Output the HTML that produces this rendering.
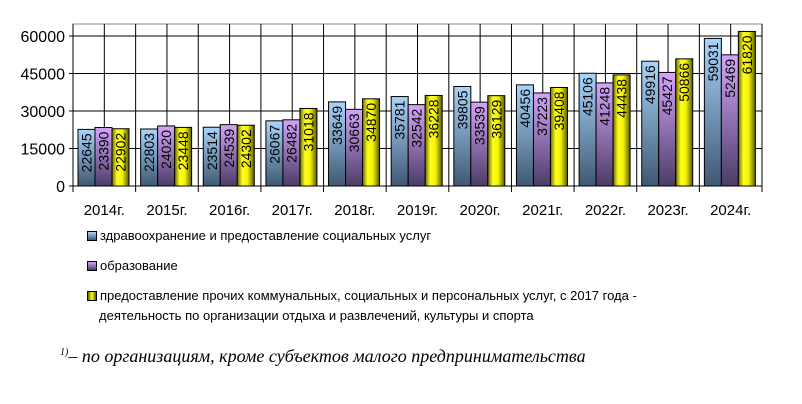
<!DOCTYPE html>
<html><head><meta charset="utf-8">
<style>
body{margin:0;background:#fff;width:802px;height:404px;overflow:hidden;font-family:"Liberation Sans",sans-serif}
svg{position:absolute;left:0;top:0}
.leg{position:absolute;left:87px;font-size:13px;color:#000;line-height:20px}
.mk{display:inline-block;width:8px;height:8px;border:1px solid #000;margin-right:3px;vertical-align:-1px}
.foot{position:absolute;left:60px;top:346px;font-family:"Liberation Serif",serif;font-style:italic;font-size:18px}
</style></head><body>
<svg id="chart" width="802" height="230" xmlns="http://www.w3.org/2000/svg">
<defs>
<linearGradient id="gB" x1="0" y1="0" x2="0" y2="1"><stop offset="0" stop-color="#a9d4fb"/><stop offset="1" stop-color="#3f5873"/></linearGradient>
<linearGradient id="gP" x1="0" y1="0" x2="0" y2="1"><stop offset="0" stop-color="#d6a4fa"/><stop offset="1" stop-color="#4a3c66"/></linearGradient>
<linearGradient id="gY" x1="0" y1="0" x2="1" y2="0"><stop offset="0" stop-color="#6b6b00"/><stop offset="0.3" stop-color="#ffff20"/><stop offset="0.6" stop-color="#f4f400"/><stop offset="1" stop-color="#5a5a00"/></linearGradient>
</defs>
</svg>
<div class="leg" style="top:226px"><span class="mk" style="background:linear-gradient(#a9d4fb,#3f5873)"></span>здравоохранение и предоставление социальных услуг</div>
<div class="leg" style="top:256px"><span class="mk" style="background:linear-gradient(#d6a4fa,#4a3c66)"></span>образование</div>
<div class="leg" style="top:286px"><span class="mk" style="background:linear-gradient(90deg,#6b6b00,#ffff20,#5a5a00)"></span>предоставление прочих коммунальных, социальных и персональных услуг, с 2017 года -<br><span style="padding-left:12px">деятельность по организации отдыха и развлечений, культуры и спорта</span></div>
<div class="foot"><sup style="font-size:10px">1)</sup>– по организациям, кроме субъектов малого предпринимательства</div>
<script>
const categories=["2014г.","2015г.","2016г.","2017г.","2018г.","2019г.","2020г.","2021г.","2022г.","2023г.","2024г."];
const health=[22645,22803,23514,26067,33649,35781,39805,40456,45106,49916,59031];
const education=[23390,24020,24539,26482,30663,32542,33539,37223,41248,45427,52469];
const other=[22902,23448,24302,31018,34870,36228,36129,39408,44438,50866,61820];
const yTicks=[0,15000,30000,45000,60000];
const svg=document.getElementById('chart');const NS='http://www.w3.org/2000/svg';
const L=73,R=762,T=24,B=186,yMax=64800;
const y=v=>B-(v/yMax)*(B-T);
const cw=(R-L)/categories.length;
const x=i=>L+i*cw;
function mk(t,a,p){const e=document.createElementNS(NS,t);for(const k in a)e.setAttribute(k,a[k]);(p||svg).appendChild(e);return e;}
const bg=mk('rect',{x:L,y:T,width:R-L,height:B-T,fill:'#fff',stroke:'#888'});

yTicks.forEach(v=>{
 const g=mk('line',{x1:L-4,x2:R,y1:y(v),y2:y(v),stroke:'#000','stroke-width':1});
 
 const t=mk('text',{x:L-8,y:y(v)+6,'text-anchor':'end','font-size':16,fill:'#000'});t.textContent=v;
 
});
for(let i=0;i<categories.length;i++){
 const m=mk('line',{x1:x(i)+cw/2,x2:x(i)+cw/2,y1:T,y2:B,stroke:'#000'});
 
 if(i>0){const b=mk('line',{x1:x(i),x2:x(i),y1:T,y2:B+6,stroke:'#000'});
 }
}
mk('line',{x1:L,x2:L,y1:T,y2:B+6,stroke:'#000'});mk('line',{x1:R,x2:R,y1:T,y2:B+6,stroke:'#000'});
const series=[[health,'url(#gB)','bar-health'],[education,'url(#gP)','bar-education'],[other,'url(#gY)','bar-other']];
const bw=17,off=5;
categories.forEach((c,i)=>{
 series.forEach((s,j)=>{
  const v=s[0][i],bx=x(i)+off+j*bw,by=y(v);
  const r=mk('rect',{x:bx,y:by,width:bw,height:B-by,fill:s[1],stroke:'#000','stroke-width':1});
  
  const t=mk('text',{x:0,y:0,'font-size':14,'text-anchor':'end',fill:'#000',transform:`translate(${bx+bw/2+5},${by+4}) rotate(-90)`});
  t.textContent=v;
 });
 const t=mk('text',{x:x(i)+cw/2,y:B+29,'text-anchor':'middle','font-size':15,fill:'#000'});t.textContent=c;
 
});
mk('line',{x1:L,x2:R,y1:B,y2:B,stroke:'#000'});
</script>
</body></html>
